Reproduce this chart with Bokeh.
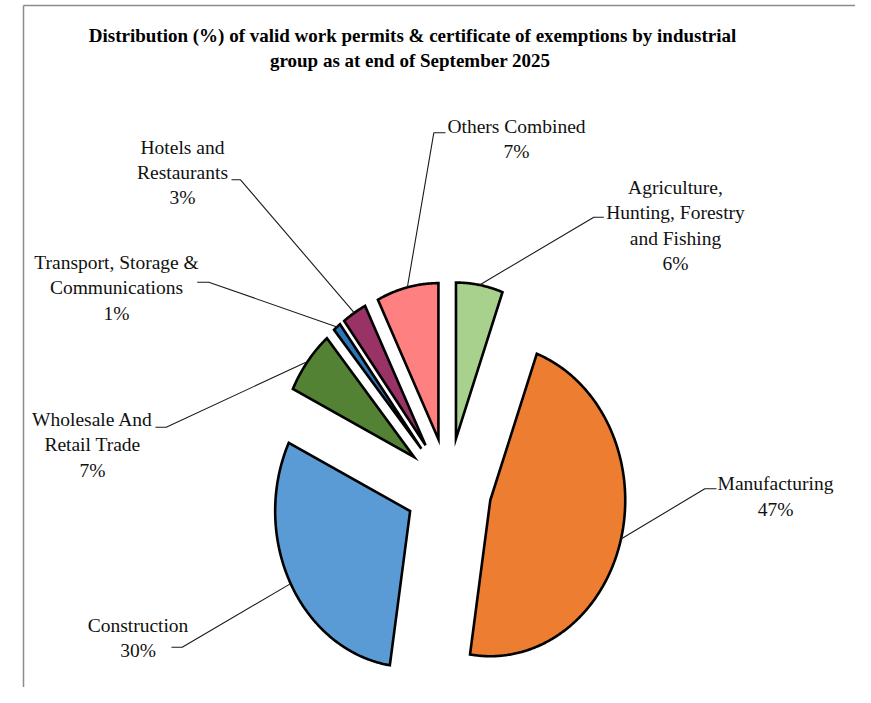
import numpy as np
from bokeh.plotting import figure
from bokeh.models import Range1d, ColumnDataSource
from bokeh.embed import file_html
from bokeh.resources import INLINE
from bokeh.core.properties import value

# ---------------- data ----------------
title_lines = [
    "Distribution (%) of valid work permits & certificate of exemptions by industrial",
    "group as at end of  September 2025",
]
categories = [
    "Agriculture, Hunting, Forestry and Fishing",
    "Manufacturing",
    "Construction",
    "Wholesale And Retail Trade",
    "Transport, Storage & Communications",
    "Hotels and Restaurants",
    "Others Combined",
]
label_lines = [
    ["Agriculture,", "Hunting, Forestry", "and Fishing"],
    ["Manufacturing"],
    ["Construction"],
    ["Wholesale And", "Retail Trade"],
    ["Transport, Storage &", "Communications"],
    ["Hotels and", "Restaurants"],
    ["Others Combined"],
]
shares = [5.6, 46.8, 29.8, 6.6, 0.9, 2.9, 7.4]

# ---------------- style / layout ----------------
colors = ["#A9D18E", "#ED7D31", "#5B9BD5", "#548235", "#2E75B6", "#993366", "#FF8080"]
W, H = 855, 687
OFF = 0
CX, CY = 447.9 - OFF, 487.3 - OFF
R = 156                      # vertical radius (px)
KX = 0.865                   # horizontal squeeze of the pie
EXPLODE = 50
LINE_H = 25.3
FONT = "Liberation Serif"
LABEL_SIZE = "19.5px"
TITLE_SIZE = "19px"
TEXT_COLOR = "#111111"
# text centre x, first line y, elbow x, elbow y, stub length (signed)
label_layout = [
    (675.0, 187.0, 593.3, 216.7, 10.0),
    (775.0, 483.3, 704.3, 488.3, 11.7),
    (137.5, 625.0, 181.7, 646.7, -10.7),
    (92.0, 419.0, 165.7, 426.7, -10.7),
    (116.0, 262.0, 208.3, 281.7, -11.6),
    (182.0, 146.5, 240.0, 179.3, -9.0),
    (516.0, 125.5, 433.3, 132.3, 11.7),
]
title_x, title_y0 = 412.0, 35.0

p = figure(width=W, height=H, x_range=Range1d(0, W), y_range=Range1d(H, 0),
           x_axis_type=None, y_axis_type=None, toolbar_location=None,
           output_backend="svg", min_border=0, outline_line_color=None,
           background_fill_color="white", border_fill_color="white")
p.xgrid.visible = False
p.ygrid.visible = False

# ---- frame of the chart area (left and top edges) ----
p.segment(x0=[23 - OFF, 23 - OFF], y0=[5, 5], x1=[23 - OFF, W], y1=[H, 5],
          line_color="#8c8c8c", line_width=1.5)

# ---- pie slices ----
vals = np.array(shares, dtype=float)
fr = vals / vals.sum()
ends = np.cumsum(fr) * 2 * np.pi
starts = ends - fr * 2 * np.pi
mids = (starts + ends) / 2

xs, ys, ax, ay = [], [], [], []
for a0, a1, m in zip(starts, ends, mids):
    vx = CX + KX * EXPLODE * np.sin(m)
    vy = CY - EXPLODE * np.cos(m)
    th = np.linspace(a0, a1, max(8, int((a1 - a0) * 120)))
    px = np.concatenate([[vx], vx + KX * R * np.sin(th)])
    py = np.concatenate([[vy], vy - R * np.cos(th)])
    xs.append(list(px))
    ys.append(list(py))
    ax.append(vx + KX * R * np.sin(m))
    ay.append(vy - R * np.cos(m))

src = ColumnDataSource(dict(xs=xs, ys=ys, color=colors, name=categories))
p.patches("xs", "ys", source=src, fill_color="color", line_color="black",
          line_width=2.6, line_join="miter")

# ---- leader lines ----
lx, ly = [], []
for (tx, ty, ex, ey, stub), a_x, a_y in zip(label_layout, ax, ay):
    lx.append([a_x, ex - OFF, ex - OFF + stub])
    ly.append([a_y, ey - OFF, ey - OFF])
p.multi_line(lx, ly, line_color="#1a1a1a", line_width=1.1)

# ---- data labels ----
tx_, ty_, tt_ = [], [], []
for lines, s, (tx, ty, ex, ey, stub) in zip(label_lines, shares, label_layout):
    allines = lines + [f"{round(s):.0f}%"]
    for j, t in enumerate(allines):
        tx_.append(tx - OFF)
        ty_.append(ty - OFF + j * LINE_H)
        tt_.append(t)
p.text(x=tx_, y=ty_, text=tt_, text_align="center", text_baseline="middle",
       text_font=value(FONT), text_font_size=LABEL_SIZE, text_color=TEXT_COLOR)

# ---- title ----
p.text(x=[title_x - OFF] * len(title_lines),
       y=[title_y0 - OFF + j * LINE_H for j in range(len(title_lines))],
       text=title_lines, text_align="center", text_baseline="middle",
       text_font=value(FONT), text_font_size=TITLE_SIZE, text_font_style="bold",
       text_color="#000000")

open("out.html", "w").write(file_html(p, INLINE))
